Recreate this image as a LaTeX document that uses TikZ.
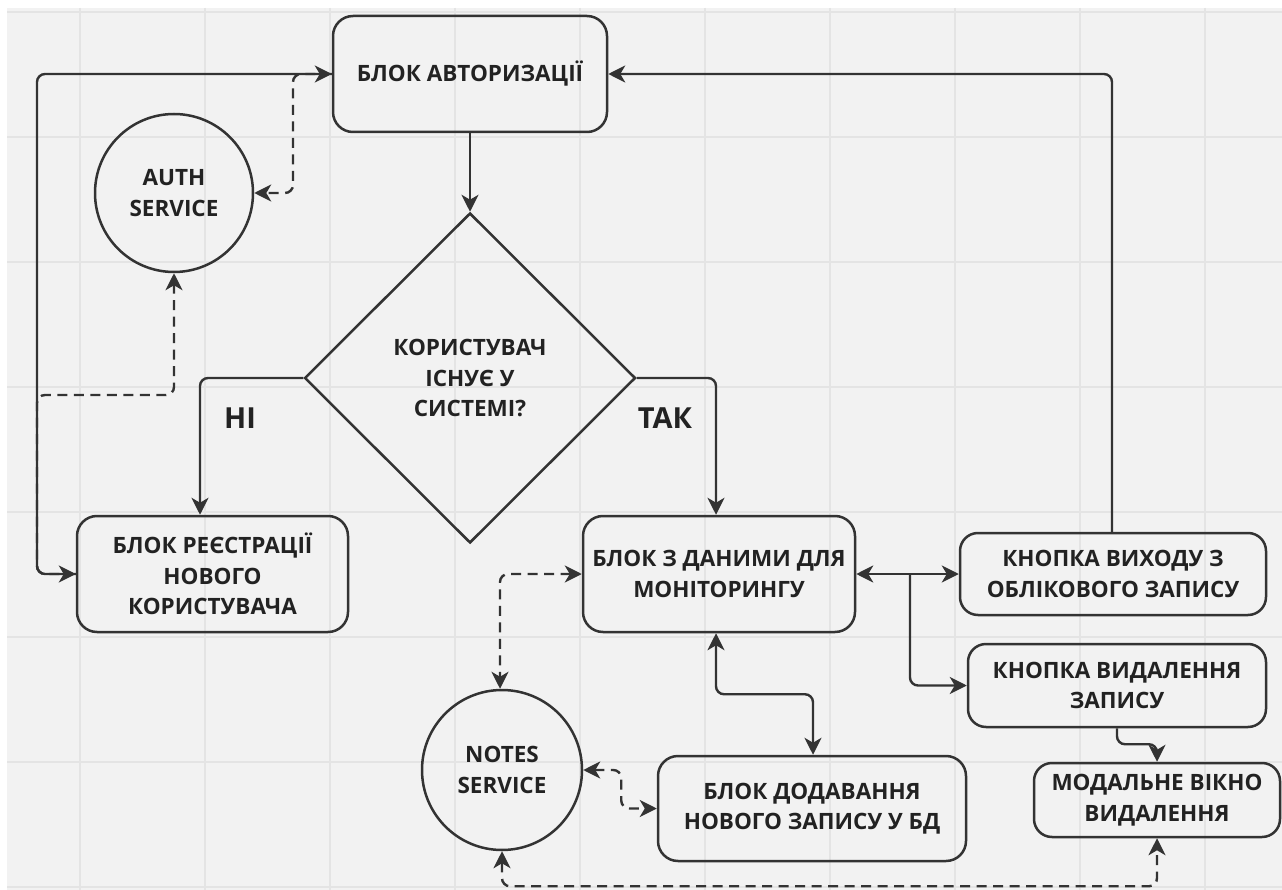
\documentclass[tikz,border=0pt]{standalone}
\usepackage{fontspec}
\setmainfont{Open Sans}
\usetikzlibrary{shapes.geometric,arrows.meta}
\definecolor{bg}{HTML}{F2F2F2}
\definecolor{gridc}{HTML}{E4E4E4}
\definecolor{ink}{HTML}{333333}
\definecolor{txt}{HTML}{222222}
\begin{document}
\begin{tikzpicture}[x=1pt,y=-1pt,
  txtstyle/.style={align=center, text=txt, font=\bfseries\fontsize{22.5}{30.5}\selectfont},
  box/.style={txtstyle, draw=ink, line width=2.5pt, rounded corners=20pt, inner sep=0pt},
  svc/.style={txtstyle, draw=ink, line width=2.5pt, circle, inner sep=0pt},
  decision/.style={txtstyle, draw=ink, line width=2.5pt, diamond, aspect=1, inner sep=0pt},
  lbl/.style={text=txt, font=\bfseries\fontsize{29}{32}\selectfont},
  conn/.style={draw=ink, line width=2.4pt, rounded corners=8pt},
  tip/.style={-{Stealth[length=17pt,width=17pt,inset=5pt]}},
  twotip/.style={{Stealth[length=17pt,width=17pt,inset=5pt]}-{Stealth[length=17pt,width=17pt,inset=5pt]}},
  dsh/.style={dash pattern=on 10pt off 6.5pt}
]
% background and grid
\useasboundingbox (0,0) rectangle (1282,890);
\fill[white] (0,0) rectangle (1282,890);
\fill[bg] (7,8) rectangle (1282,890);
\foreach \gx in {80,205,...,1205} {\draw[gridc, line width=1.8pt] (\gx,8) -- (\gx,890);}
\foreach \gy in {12,137,...,887} {\draw[gridc, line width=1.8pt] (7,\gy) -- (1282,\gy);}

% nodes
\node[box, minimum width=274pt, minimum height=116pt] (auth) at (470,74) {БЛОК АВТОРИЗАЦІЇ};
\node[svc, minimum size=158pt] (authsvc) at (174,193) {AUTH\\SERVICE};
\node[decision, minimum width=331pt, minimum height=330pt] (dia) at (470,378) {КОРИСТУВАЧ\\ІСНУЄ У\\СИСТЕМІ?};
\node[box, minimum width=271pt, minimum height=116pt] (reg) at (212.5,574) {БЛОК РЕЄСТРАЦІЇ\\НОВОГО\\КОРИСТУВАЧА};
\node[box, minimum width=272pt, minimum height=116pt] (data) at (719,574) {БЛОК З ДАНИМИ ДЛЯ\\МОНІТОРИНГУ};
\node[box, rounded corners=18pt, minimum width=306pt, minimum height=82pt] (exit) at (1113,574) {КНОПКА ВИХОДУ З\\ОБЛІКОВОГО ЗАПИСУ};
\node[box, rounded corners=18pt, minimum width=298pt, minimum height=83pt] (del) at (1117,685.5) {КНОПКА ВИДАЛЕННЯ\\ЗАПИСУ};
\node[box, rounded corners=18pt, minimum width=246pt, minimum height=74pt] (modal) at (1157,800) {МОДАЛЬНЕ ВІКНО\\ВИДАЛЕННЯ};
\node[box, minimum width=308pt, minimum height=105pt] (add) at (812,808.5) {БЛОК ДОДАВАННЯ\\НОВОГО ЗАПИСУ У БД};
\node[svc, minimum size=160pt] (notes) at (502,770) {NOTES\\SERVICE};

\node[lbl] (ni) at (240,418) {НІ};
\node[lbl] (tak) at (665,418) {ТАК};

% helper coordinates for bends
\coordinate (L) at (37,0);
\coordinate (M) at (37,395);
\coordinate (D) at (293,0);
\coordinate (B) at (910,574);

% solid connectors
\draw[conn, tip] (auth.south) -- (dia.north);
\draw[conn, tip] (dia.west) -| ([xshift=-12.5pt]reg.north);
\draw[conn, tip] (dia.east) -| ([xshift=-3pt]data.north);
\draw[conn, twotip] (auth.west) -- (auth.west -| L) -- (reg.west -| L) -- (reg.west);
\draw[conn, tip] ([xshift=-1pt]exit.north) |- (auth.east);
\draw[conn, twotip] (data.east) -- (exit.west);
\draw[conn, tip] (B) |- (del.west);
\draw[conn, twotip] ([xshift=-3pt]data.south) -- ++(0,61) -| ([xshift=1pt]add.north);
\draw[conn, tip] (del.south) -- ++(0,16) -| (modal.north);

% dashed connectors
\draw[conn, dsh, tip] (auth.west) -- (auth.west -| D) |- (authsvc.east);
\draw[conn, dsh, tip] (reg.west) -- (reg.west -| M) -- (M) -| (authsvc.south);
\draw[conn, dsh, twotip] (data.west) -| ([xshift=-2pt]notes.north);
\draw[conn, dsh, twotip] (notes.east) -- ++(38,0) |- (add.west);
\draw[conn, dsh, twotip] (notes.south) -- ++(0,35) -| (modal.south);
\end{tikzpicture}
\end{document}
